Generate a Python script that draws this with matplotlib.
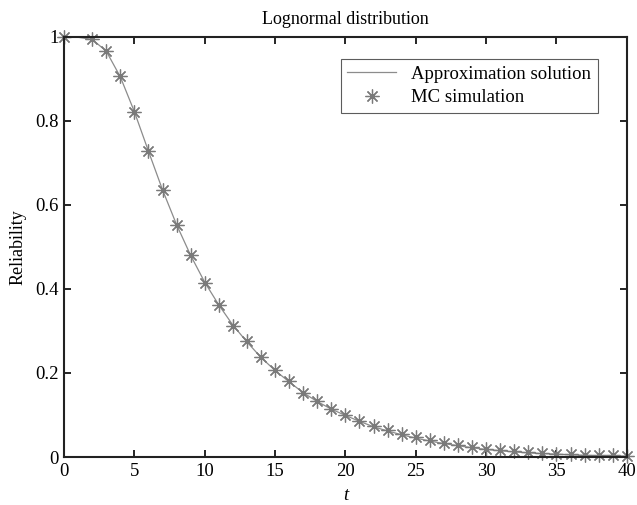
import numpy as np
import matplotlib.pyplot as plt

plt.rcParams['font.family'] = ['Liberation Serif', 'DejaVu Serif']

# MC simulation points
t_mc = [0, 2, 3, 4, 5, 6, 7, 8, 9, 10, 11, 12, 13, 14, 15, 16, 17, 18, 19, 20,
        21, 22, 23, 24, 25, 26, 27, 28, 29, 30, 31, 32, 33, 34, 35, 36, 37, 38, 39, 40]
r_mc = [1.0, 0.994, 0.966, 0.906, 0.822, 0.728, 0.636, 0.552, 0.481, 0.415,
        0.363, 0.313, 0.276, 0.237, 0.207, 0.180, 0.153, 0.134, 0.115, 0.101,
        0.086, 0.074, 0.064, 0.055, 0.047, 0.040, 0.033, 0.028, 0.024, 0.020,
        0.016, 0.014, 0.011, 0.009, 0.008, 0.007, 0.005, 0.004, 0.004, 0.003]

# Approximation solution
t_ap = list(range(0, 41))
r_ap = [1.0, 0.999, 0.994, 0.966, 0.905, 0.822, 0.728, 0.636, 0.553, 0.480, 0.416,
        0.362, 0.314, 0.274, 0.237, 0.206, 0.179, 0.153, 0.132, 0.114, 0.099,
        0.085, 0.072, 0.062, 0.053, 0.045, 0.038, 0.032, 0.027, 0.022, 0.018,
        0.015, 0.012, 0.010, 0.008, 0.007, 0.005, 0.004, 0.003, 0.003, 0.002]

fig = plt.figure(figsize=(6.37, 5.05), dpi=100)
ax = fig.add_axes([0.1005, 0.095, 0.8835, 0.832])

ax.plot(t_ap, r_ap, color='#8c8c8c', lw=0.9, label='Approximation solution')
ax.plot(t_mc, r_mc, ls='none', marker=(8, 2, 0), ms=10, mew=0.9,
        color='#7a7a7a', label='MC simulation', clip_on=False)

ax.set_xlim(0, 40)
ax.set_ylim(0, 1)
ax.set_xticks([0, 5, 10, 15, 20, 25, 30, 35, 40])
ax.set_yticks([0, 0.2, 0.4, 0.6, 0.8, 1])
ax.set_yticklabels(['0', '0.2', '0.4', '0.6', '0.8', '1'])
ax.tick_params(direction='in', top=True, right=True, length=5, width=1.2,
               labelsize=13.5, pad=4)
for s in ax.spines.values():
    s.set_linewidth(1.5)
    s.set_color('#222222')

ax.set_title('Lognormal distribution', fontsize=13, pad=9)
ax.set_xlabel('t', fontsize=13.5, style='italic', labelpad=5)
ax.set_ylabel('Reliability', fontsize=13, labelpad=6)

leg = ax.legend(loc='upper right', bbox_to_anchor=(0.965, 0.97), fontsize=13.5,
                frameon=True, fancybox=False, edgecolor='#333333',
                handlelength=2.6, borderpad=0.35, labelspacing=0.35,
                handletextpad=0.8)
leg.get_frame().set_linewidth(0.8)

plt.savefig('out.png', dpi=100)
